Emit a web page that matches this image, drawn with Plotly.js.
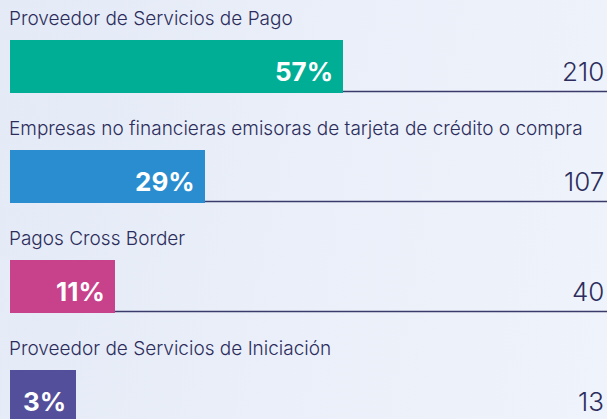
<!DOCTYPE html>
<html>
<head>
<meta charset="utf-8">
<script src="https://cdn.plot.ly/plotly-3.0.1.min.js"></script>
<style>
  html, body { margin:0; padding:0; }
  body { width:607px; height:419px; overflow:hidden;
         background: linear-gradient(100deg, #e4eaf6 0%, #eaeff9 50%, #eff3fb 100%); }
  #chart { width:607px; height:419px; }
</style>
</head>
<body>
<div id="chart"></div>
<script>
// ---- data ----
const categories = [
  "Proveedor de Servicios de Pago",
  "Empresas no financieras emisoras de tarjeta de crédito o compra",
  "Pagos Cross Border",
  "Proveedor de Servicios de Iniciación"
];
const percents = [57, 29, 11, 3];
const counts = [210, 107, 40, 13];
const colors = ["#00ae96", "#2a8dcf", "#c8418b", "#544f9b"];

// ---- layout constants ----
const BASE = -10.3;           // bars start a little left of zero (min room for label)
const PX_PER_UNIT = 4.95;
const XMIN = BASE - 10 / PX_PER_UNIT;
const XMAX = XMIN + 607 / PX_PER_UNIT;
const Y_PER_PX = 1 / 110;
const YTOP = -66.5 * Y_PER_PX;
const YBOT = YTOP + 419 * Y_PER_PX;
const navy = "#2c2d5c";

const yIdx = categories.map((c, i) => i);

const trace = {
  type: "bar",
  orientation: "h",
  y: yIdx,
  x: percents.map(p => p - BASE),
  base: BASE,
  width: 0.48,
  marker: { color: colors, line: { width: 0 } },
  hoverinfo: "skip",
  showlegend: false
};

const shapes = yIdx.map(i => ({
  type: "line", xref: "x", yref: "y", layer: "below",
  x0: BASE, x1: XMAX, y0: i + 0.227, y1: i + 0.227,
  line: { color: "#3a3b6b", width: 1.5 }
}));

const annotations = [];
yIdx.forEach(i => {
  annotations.push({
    xref: "paper", yref: "y", x: 0, y: i - 0.44, xanchor: "left", yanchor: "middle",
    xshift: 7, showarrow: false, text: categories[i],
    font: { family: "Inter, sans-serif", size: 19, color: navy, weight: 300 }
  });
  annotations.push({
    xref: "x", yref: "y", x: percents[i], y: i, xanchor: "right", yanchor: "middle",
    xshift: -8, yshift: -5, showarrow: false, text: percents[i] + "%",
    font: { family: "Inter, sans-serif", size: 26, color: "#ffffff", weight: 700 }
  });
  annotations.push({
    xref: "paper", yref: "y", x: 1, y: i, xanchor: "right", yanchor: "middle",
    xshift: -1, yshift: -5, showarrow: false, text: String(counts[i]),
    font: { family: "Inter, sans-serif", size: 26, color: navy, weight: 300 }
  });
});

const layout = {
  width: 607, height: 419,
  margin: { l: 0, r: 0, t: 0, b: 0, pad: 0 },
  paper_bgcolor: "rgba(0,0,0,0)",
  plot_bgcolor: "rgba(0,0,0,0)",
  xaxis: { range: [XMIN, XMAX], visible: false, fixedrange: true },
  yaxis: { range: [YBOT, YTOP], visible: false, fixedrange: true },
  shapes: shapes,
  annotations: annotations,
  bargap: 0
};

Plotly.newPlot("chart", [trace], layout, { displayModeBar: false, staticPlot: true });
</script>
</body>
</html>
